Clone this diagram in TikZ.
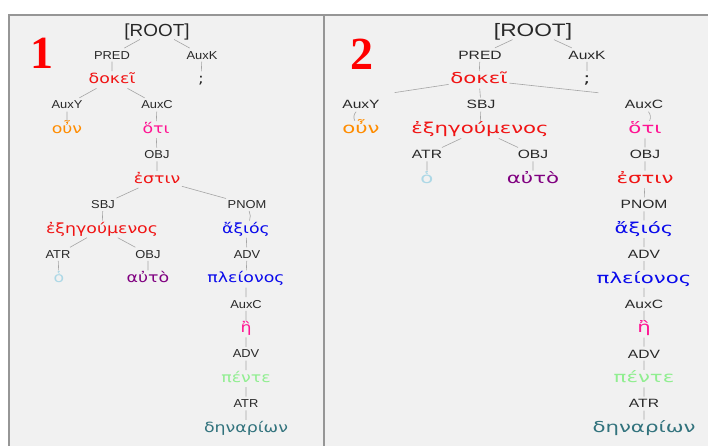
\documentclass[tikz,border=0pt]{standalone}
\usepackage{fontspec}
% Fonts: Helvetica-like labels, Lucida-like Greek words, horizontally widened
\newfontfamily\lblfontL[FakeStretch=1.12]{Liberation Sans}
\newfontfamily\lblfontR[FakeStretch=1.30]{Liberation Sans}
\newfontfamily\wrdfontL[FakeStretch=1.24]{DejaVu Sans}
\newfontfamily\wrdfontR[FakeStretch=1.42]{DejaVu Sans}
\newfontfamily\rootfontL[FakeStretch=1.08]{Liberation Sans}
\newfontfamily\rootfontR[FakeStretch=1.26]{Liberation Sans}
\newfontfamily\numfont{Liberation Serif}

\definecolor{panelbg}{RGB}{241,241,241}
\definecolor{panelrule}{RGB}{150,150,150}
\definecolor{edgegray}{RGB}{165,165,165}
\definecolor{lblgray}{RGB}{40,40,40}
\definecolor{wRed}{RGB}{240,20,20}
\definecolor{wOrange}{RGB}{255,140,0}
\definecolor{wPink}{RGB}{255,20,147}
\definecolor{wLightBlue}{RGB}{173,216,230}
\definecolor{wPurple}{RGB}{128,0,128}
\definecolor{wBlue}{RGB}{10,10,235}
\definecolor{wGreen}{RGB}{144,238,144}
\definecolor{wTeal}{RGB}{50,115,125}

\tikzset{
  lblL/.style={font=\lblfontL\fontsize{11.5}{12}\selectfont, text=lblgray,
    text height=8.3pt, text depth=0pt, inner xsep=1.5pt, inner ysep=2.5pt},
  lblR/.style={font=\lblfontR\fontsize{12}{13}\selectfont, text=lblgray,
    text height=8.6pt, text depth=0pt, inner xsep=1.5pt, inner ysep=2.5pt},
  wrdL/.style={font=\wrdfontL\fontsize{14}{16}\selectfont, text=#1,
    text height=7.7pt, text depth=0pt, inner xsep=1.5pt, inner ysep=4.5pt},
  wrdR/.style={font=\wrdfontR\fontsize{15}{17}\selectfont, text=#1,
    text height=8.2pt, text depth=0pt, inner xsep=1.5pt, inner ysep=4.5pt},
  rootL/.style={font=\rootfontL\fontsize{17.5}{19}\selectfont, text=lblgray,
    text height=12.5pt, text depth=0pt, inner xsep=1.5pt, inner ysep=3pt},
  rootR/.style={font=\rootfontR\fontsize{18}{20}\selectfont, text=lblgray,
    text height=12.9pt, text depth=0pt, inner xsep=1.5pt, inner ysep=3pt},
  panelnum/.style={font=\numfont\bfseries\fontsize{46}{46}\selectfont, text=red,
    text height=31pt, text depth=0pt, inner sep=0pt},
  link/.style={draw=edgegray, line width=0.6pt},
}

\begin{document}
\begin{tikzpicture}[x=1pt, y=-1pt]
\path[use as bounding box] (0,0) rectangle (708,446);

% panels
\fill[panelbg] (9,15) rectangle (708,446);
\draw[panelrule, line width=1.3pt] (9,446) -- (9,15) -- (708,15);
\draw[panelrule, line width=1.6pt] (324,15) -- (324,446);

% ---------------- tree 1 ----------------
\node[panelnum] (num1) at (42,53) {1};

\node[rootL] (a-root) at (157,30.0) {[ROOT]};
\node[lblL] (a-pred) at (112,54.9) {PRED};
\node[lblL] (a-auxk) at (202,54.9) {AuxK};
\node[wrdL=wRed] (a-dokei) at (112,79.8) {δοκεῖ};
\node[wrdL=lblgray] (a-semi) at (201,79.8) {;};
\node[lblL] (a-auxy) at (67,104.7) {AuxY};
\node[lblL] (a-auxc) at (157,104.7) {AuxC};
\node[wrdL=wOrange] (a-oun) at (67,129.6) {οὖν};
\node[wrdL=wPink] (a-hoti) at (156,129.6) {ὅτι};
\node[lblL] (a-obj) at (157,154.5) {OBJ};
\node[wrdL=wRed] (a-estin) at (157,179.4) {ἐστιν};
\node[lblL] (a-sbj) at (103,204.3) {SBJ};
\node[lblL] (a-pnom) at (247,204.3) {PNOM};
\node[wrdL=wRed] (a-exeg) at (102,229.2) {ἐξηγούμενος};
\node[wrdL=wBlue] (a-axios) at (246,229.2) {ἄξιός};
\node[lblL] (a-atr) at (58,254.1) {ATR};
\node[lblL] (a-obj2) at (148,254.1) {OBJ};
\node[lblL] (a-adv) at (247,254.1) {ADV};
\node[wrdL=wLightBlue] (a-ho) at (59,279.0) {ὁ};
\node[wrdL=wPurple] (a-auto) at (148,279.0) {αὐτὸ};
\node[wrdL=wBlue] (a-pleion) at (246,279.0) {πλείονος};
\node[lblL] (a-auxc2) at (246,303.9) {AuxC};
\node[wrdL=wPink] (a-e) at (246,328.8) {ἢ};
\node[lblL] (a-adv2) at (246,353.7) {ADV};
\node[wrdL=wGreen] (a-pente) at (246,378.6) {πέντε};
\node[lblL] (a-atr2) at (246,403.5) {ATR};
\node[wrdL=wTeal] (a-denar) at (246,428.4) {δηναρίων};

\path[link] (a-root) -- (a-pred)  (a-root) -- (a-auxk)
  (a-pred) -- (a-dokei)  (a-auxk) -- (a-semi)
  (a-dokei) -- (a-auxy)  (a-dokei) -- (a-auxc)
  (a-auxy) -- (a-oun)  (a-auxc) -- (a-hoti)
  (a-hoti) -- (a-obj)  (a-obj) -- (a-estin)
  (a-estin) -- (a-sbj)  (a-estin) -- (a-pnom)
  (a-sbj) -- (a-exeg)  (a-pnom) to[bend left=20] (a-axios)
  (a-exeg) -- (a-atr)  (a-exeg) -- (a-obj2)
  (a-atr) -- (a-ho)  (a-obj2) -- (a-auto)
  (a-axios) -- (a-adv)  (a-adv) -- (a-pleion)
  (a-pleion) -- (a-auxc2)  (a-auxc2) -- (a-e)
  (a-e) -- (a-adv2)  (a-adv2) -- (a-pente)
  (a-pente) -- (a-atr2)  (a-atr2) -- (a-denar);

% ---------------- tree 2 ----------------
\node[panelnum] (num2) at (362,54) {2};

\node[rootR] (b-root) at (533,30.0) {[ROOT]};
\node[lblR] (b-pred) at (480,54.9) {PRED};
\node[lblR] (b-auxk) at (587,54.9) {AuxK};
\node[wrdR=wRed] (b-dokei) at (479,79.8) {δοκεῖ};
\node[wrdR=lblgray] (b-semi) at (587,79.8) {;};
\node[lblR] (b-auxy) at (361,104.7) {AuxY};
\node[lblR] (b-sbj) at (481,104.7) {SBJ};
\node[lblR] (b-auxc) at (644,104.7) {AuxC};
\node[wrdR=wOrange] (b-oun) at (361,129.6) {οὖν};
\node[wrdR=wRed] (b-exeg) at (480,129.6) {ἐξηγούμενος};
\node[wrdR=wPink] (b-hoti) at (645,129.6) {ὅτι};
\node[lblR] (b-atr) at (427,154.5) {ATR};
\node[lblR] (b-obj) at (533,154.5) {OBJ};
\node[lblR] (b-obj2) at (645,154.5) {OBJ};
\node[wrdR=wLightBlue] (b-ho) at (427,179.4) {ὁ};
\node[wrdR=wPurple] (b-auto) at (533,179.4) {αὐτὸ};
\node[wrdR=wRed] (b-estin) at (645,179.4) {ἐστιν};
\node[lblR] (b-pnom) at (644,204.3) {PNOM};
\node[wrdR=wBlue] (b-axios) at (644,229.2) {ἄξιός};
\node[lblR] (b-adv) at (644,254.1) {ADV};
\node[wrdR=wBlue] (b-pleion) at (644,279.0) {πλείονος};
\node[lblR] (b-auxc2) at (644,303.9) {AuxC};
\node[wrdR=wPink] (b-e) at (644,328.8) {ἢ};
\node[lblR] (b-adv2) at (644,353.7) {ADV};
\node[wrdR=wGreen] (b-pente) at (644,378.6) {πέντε};
\node[lblR] (b-atr2) at (644,403.5) {ATR};
\node[wrdR=wTeal] (b-denar) at (644,428.4) {δηναρίων};

\path[link] (b-root) -- (b-pred)  (b-root) -- (b-auxk)
  (b-pred) -- (b-dokei)  (b-auxk) -- (b-semi)
  (b-dokei) -- (b-sbj)  (b-sbj) -- (b-exeg)
  (b-auxy) to[bend right=35] (b-oun)
  (b-auxc) to[bend left=30] (b-hoti)
  (b-exeg) -- (b-atr)  (b-exeg) -- (b-obj)
  (b-atr) -- (b-ho)  (b-obj) -- (b-auto)
  (b-hoti) -- (b-obj2)  (b-obj2) -- (b-estin)
  (b-estin) -- (b-pnom)  (b-pnom) -- (b-axios)
  (b-axios) -- (b-adv)  (b-adv) -- (b-pleion)
  (b-pleion) -- (b-auxc2)  (b-auxc2) -- (b-e)
  (b-e) -- (b-adv2)  (b-adv2) -- (b-pente)
  (b-pente) -- (b-atr2)  (b-atr2) -- (b-denar);
\draw[link, shorten >=34pt] (b-dokei) -- (b-auxy.north);
\draw[link, shorten >=46pt] (b-dokei) -- (b-auxc.north);
\end{tikzpicture}
\end{document}
